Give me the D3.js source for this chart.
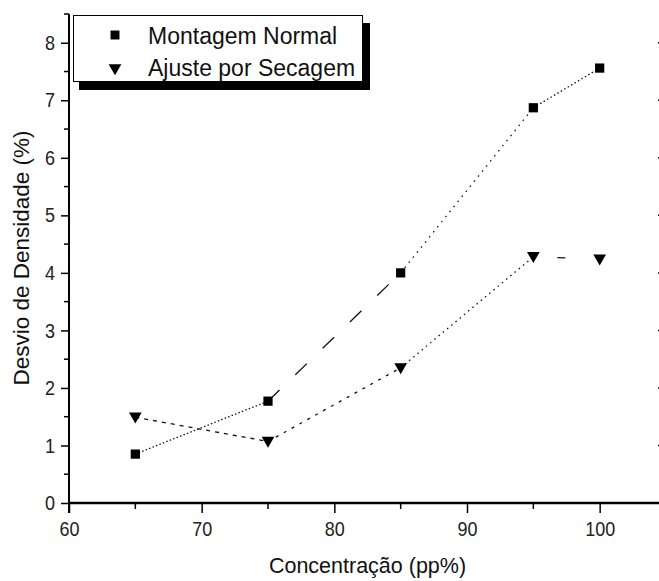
<!DOCTYPE html>
<html>
<head>
<meta charset="utf-8">
<script src="https://cdn.jsdelivr.net/npm/d3@7"></script>
<style>
  body { margin: 0; background: #fff; }
  svg { display: block; font-family: "Liberation Sans", Arial, sans-serif; }
</style>
</head>
<body>
<div id="chart"></div>
<script>
// Data
const concentration = [65, 75, 85, 95, 100];
const montagemNormal = [0.85, 1.77, 4.0, 6.87, 7.56];
const ajusteSecagem = [1.49, 1.07, 2.35, 4.28, 4.24];
const seriesNames = ['Montagem Normal', 'Ajuste por Secagem'];
const xTicks = [60, 70, 80, 90, 100];
const yTicks = [0, 1, 2, 3, 4, 5, 6, 7, 8];

// dash pattern per segment (the scan renders the dotted line unevenly)
const dashSquares = ['1.5,2.2', '16,22', '1.5,5', '1.5,2.5'];
const dashTriangles = ['4,5', '3,6', '1.5,4', '0,24,8,40'];

const W = 659, H = 581;

const svg = d3.select('#chart')
    .append('svg')
    .attr('width', W)
    .attr('height', H);

const x = d3.scaleLinear().domain([60, 105]).range([69, 666]);
const y = d3.scaleLinear().domain([0, 8.5]).range([503, 14]);

// Y axis (left)
const yAxis = d3.axisLeft(y)
    .tickValues(yTicks)
    .tickSize(8)
    .tickPadding(6)
    .tickFormat(d3.format('d'));

const gy = svg.append('g')
    .attr('transform', `translate(${x(60)},0)`)
    .call(yAxis);
gy.select('.domain').remove();
gy.selectAll('.tick line').attr('stroke-width', 1.5);
gy.selectAll('text')
    .style('font-size', '18px')
    .attr('transform', 'scale(1,1.15)')
    .attr('fill', '#222');

// minor y ticks
svg.append('g')
    .selectAll('line')
    .data(d3.range(0.5, 8.6, 1))
    .join('line')
    .attr('x1', x(60) - 5)
    .attr('x2', x(60))
    .attr('y1', d => y(d))
    .attr('y2', d => y(d))
    .attr('stroke', '#000')
    .attr('stroke-width', 1.5);

// X axis (bottom)
const xAxis = d3.axisBottom(x)
    .tickValues(xTicks)
    .tickSize(10)
    .tickPadding(6)
    .tickFormat(d3.format('d'));

const gx = svg.append('g')
    .attr('transform', `translate(0,${y(0)})`)
    .call(xAxis);
gx.select('.domain').remove();
gx.selectAll('.tick line').attr('stroke-width', 1.5);
gx.selectAll('text')
    .style('font-size', '18px')
    .attr('transform', 'scale(1,1.15)')
    .attr('fill', '#222');

// minor x ticks
svg.append('g')
    .selectAll('line')
    .data([65, 75, 85, 95, 105])
    .join('line')
    .attr('x1', d => x(d))
    .attr('x2', d => x(d))
    .attr('y1', y(0))
    .attr('y2', y(0) + 6)
    .attr('stroke', '#000')
    .attr('stroke-width', 1.5);

// right axis inward ticks (mostly cut off by the crop)
svg.append('g')
    .selectAll('line')
    .data(yTicks)
    .join('line')
    .attr('x1', x(105) - 8)
    .attr('x2', x(105))
    .attr('y1', d => y(d))
    .attr('y2', d => y(d))
    .attr('stroke', '#000')
    .attr('stroke-width', 1.5);

// axis lines
svg.append('line')
    .attr('x1', x(60)).attr('x2', x(60))
    .attr('y1', y(8.5)).attr('y2', y(0) + 10)
    .attr('stroke', '#000').attr('stroke-width', 2);
svg.append('line')
    .attr('x1', x(60) - 1).attr('x2', x(105))
    .attr('y1', y(0)).attr('y2', y(0))
    .attr('stroke', '#000').attr('stroke-width', 2.5);

// Lines, drawn segment by segment
function drawSegments(values, dashes) {
    for (let i = 0; i < values.length - 1; i++) {
        svg.append('line')
            .attr('x1', x(concentration[i]))
            .attr('y1', y(values[i]))
            .attr('x2', x(concentration[i + 1]))
            .attr('y2', y(values[i + 1]))
            .attr('stroke', '#111')
            .attr('stroke-width', 1.3)
            .attr('stroke-dasharray', dashes[i]);
    }
}
drawSegments(montagemNormal, dashSquares);
drawSegments(ajusteSecagem, dashTriangles);

// Markers
const square = d3.symbol().type(d3.symbolSquare).size(85);
const triangle = d3.symbol().type(d3.symbolTriangle).size(70);

svg.append('g')
    .selectAll('path')
    .data(concentration)
    .join('path')
    .attr('d', square)
    .attr('transform', (d, i) => `translate(${x(d)},${y(montagemNormal[i])})`)
    .attr('fill', '#000');

svg.append('g')
    .selectAll('path')
    .data(concentration)
    .join('path')
    .attr('d', triangle)
    .attr('transform', (d, i) => `translate(${x(d)},${y(ajusteSecagem[i]) - 1}) rotate(180)`)
    .attr('fill', '#000');

// Legend with drop shadow
const legend = svg.append('g');
legend.append('rect')
    .attr('x', 79).attr('y', 23)
    .attr('width', 291).attr('height', 67)
    .attr('fill', '#000');
legend.append('rect')
    .attr('x', 73.5).attr('y', 15.5)
    .attr('width', 289).attr('height', 66)
    .attr('fill', '#fff')
    .attr('stroke', '#000')
    .attr('stroke-width', 1);

legend.append('path')
    .attr('d', d3.symbol().type(d3.symbolSquare).size(80))
    .attr('transform', 'translate(115,35)')
    .attr('fill', '#000');
legend.append('path')
    .attr('d', d3.symbol().type(d3.symbolTriangle).size(70))
    .attr('transform', 'translate(115,68) rotate(180)')
    .attr('fill', '#000');

legend.selectAll('text')
    .data(seriesNames)
    .join('text')
    .attr('x', 148)
    .attr('y', (d, i) => 44 + i * 32)
    .style('font-size', '23px')
    .attr('fill', '#111')
    .text(d => d);

// Axis titles
svg.append('text')
    .attr('x', (x(60) + x(105)) / 2)
    .attr('y', 573)
    .attr('text-anchor', 'middle')
    .style('font-size', '21.5px')
    .attr('fill', '#111')
    .text('Concentração (pp%)');

svg.append('text')
    .attr('transform', `translate(29,${258}) rotate(-90)`)
    .attr('text-anchor', 'middle')
    .style('font-size', '22.5px')
    .attr('fill', '#111')
    .text('Desvio de Densidade (%)');
</script>
</body>
</html>
